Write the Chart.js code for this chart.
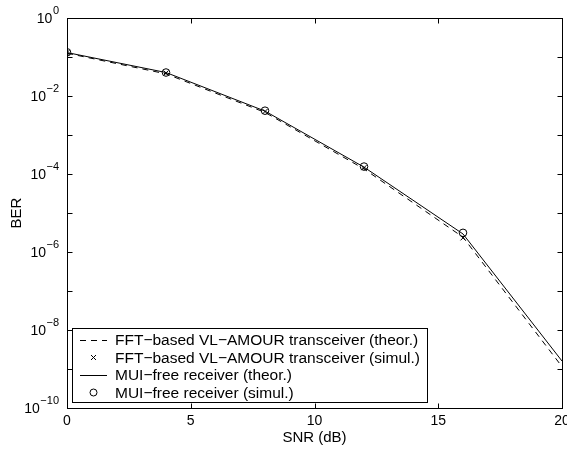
<!DOCTYPE html>
<html>
<head>
<meta charset="utf-8">
<script src="https://cdn.jsdelivr.net/npm/chart.js@4/dist/chart.umd.min.js"></script>
<style>
  html, body { margin: 0; padding: 0; background: #fff; }
  #wrap { width: 567px; height: 449px; }
</style>
</head>
<body>
<div id="wrap"><canvas id="c" width="567" height="449"></canvas></div>
<script>
// SNR points (dB)
const snr = [0, 4, 8, 12, 16, 20];
const snrSim = [0, 4, 8, 12, 16];

// BER curves
const fftTheor = [0.125, 0.037, 3.8e-3, 1.35e-4, 2.4e-6, 1.15e-9];
const fftSimul = [0.13, 0.039, 4.0e-3, 1.45e-4, 2.3e-6];
const muiTheor = [0.13, 0.040, 4.1e-3, 1.5e-4, 2.9e-6, 1.6e-9];
const muiSimul = [0.132, 0.040, 4.2e-3, 1.55e-4, 3.1e-6];

// Axis ticks
const xTicks = [0, 5, 10, 15, 20];
const yExponents = [0, -1, -2, -3, -4, -5, -6, -7, -8, -9, -10];
const yLabelExponents = [0, -2, -4, -6, -8, -10];

const legendLabels = [
  'FFT\u2212based VL\u2212AMOUR transceiver (theor.)',
  'FFT\u2212based VL\u2212AMOUR transceiver (simul.)',
  'MUI\u2212free receiver (theor.)',
  'MUI\u2212free receiver (simul.)'
];

const FONT = '"Liberation Sans", Arial, Helvetica, sans-serif';
const pts = (xs, ys) => xs.map((x, i) => ({ x, y: ys[i] }));

// Frame, inward ticks, tick labels, axis titles and legend
const axesPlugin = {
  id: 'axesPlugin',
  afterDraw(chart) {
    const ctx = chart.ctx;
    const a = chart.chartArea;
    const xs = chart.scales.x, ys = chart.scales.y;
    const L = Math.round(a.left) + 0.5, R = Math.round(a.right) + 0.5;
    const T = Math.round(a.top) + 0.5, B = Math.round(a.bottom) + 0.5;
    const tl = 5;
    ctx.save();
    ctx.strokeStyle = '#000';
    ctx.lineWidth = 1;
    ctx.setLineDash([]);
    ctx.strokeRect(L, T, R - L, B - T);

    ctx.beginPath();
    xTicks.forEach(v => {
      const px = Math.round(xs.getPixelForValue(v)) + 0.5;
      ctx.moveTo(px, B); ctx.lineTo(px, B - tl);
      ctx.moveTo(px, T); ctx.lineTo(px, T + tl);
    });
    yExponents.forEach(e => {
      const py = Math.round(ys.getPixelForValue(Math.pow(10, e))) + 0.5;
      ctx.moveTo(L, py); ctx.lineTo(L + tl, py);
      ctx.moveTo(R, py); ctx.lineTo(R - tl, py);
    });
    ctx.stroke();

    ctx.fillStyle = '#000';
    // x tick labels
    ctx.font = '14px ' + FONT;
    ctx.textAlign = 'center';
    ctx.textBaseline = 'middle';
    xTicks.forEach(v => {
      ctx.fillText(String(v), xs.getPixelForValue(v), a.bottom + 13);
    });

    // y tick labels with superscript exponents
    yLabelExponents.forEach(e => {
      const py = ys.getPixelForValue(Math.pow(10, e));
      const exp = e === 0 ? '0' : '\u2212' + Math.abs(e);
      ctx.font = '11px ' + FONT;
      const ew = ctx.measureText(exp).width;
      ctx.font = '14px ' + FONT;
      const bw = ctx.measureText('10').width;
      const right = a.left - 8;
      ctx.textAlign = 'left';
      ctx.textBaseline = 'middle';
      ctx.fillText('10', right - ew - bw - 0.5, py + 1);
      ctx.font = '11px ' + FONT;
      ctx.fillText(exp, right - ew, py - 7);
    });

    // axis titles
    ctx.font = '15px ' + FONT;
    ctx.textAlign = 'center';
    ctx.textBaseline = 'middle';
    ctx.fillText('SNR (dB)', (a.left + a.right) / 2, 438);
    ctx.save();
    ctx.translate(17, (a.top + a.bottom) / 2);
    ctx.rotate(-Math.PI / 2);
    ctx.fillText('BER', 0, 0);
    ctx.restore();

    // legend
    const bx = 72.5, by = 328.5, bw2 = 355, bh = 74;
    ctx.fillStyle = '#fff';
    ctx.fillRect(bx, by, bw2, bh);
    ctx.strokeRect(bx, by, bw2, bh);
    const rows = [340, 357.5, 375, 392.5];
    const sx0 = 80, sx1 = 107, sxm = 93.5;
    ctx.fillStyle = '#000';
    ctx.font = '15.5px ' + FONT;
    ctx.textAlign = 'left';
    ctx.textBaseline = 'middle';
    rows.forEach((ry, i) => {
      ctx.fillText(legendLabels[i], 115, ry + 1);
    });
    // dashed sample
    ctx.beginPath();
    ctx.setLineDash([6, 5]);
    ctx.moveTo(sx0, rows[0] + 0.5); ctx.lineTo(sx1, rows[0] + 0.5);
    ctx.stroke();
    ctx.setLineDash([]);
    // cross sample
    const c = 2.5;
    ctx.beginPath();
    ctx.moveTo(sxm - c, rows[1] - c); ctx.lineTo(sxm + c, rows[1] + c);
    ctx.moveTo(sxm - c, rows[1] + c); ctx.lineTo(sxm + c, rows[1] - c);
    ctx.stroke();
    // solid sample
    ctx.beginPath();
    ctx.moveTo(sx0, rows[2] + 0.5); ctx.lineTo(sx1, rows[2] + 0.5);
    ctx.stroke();
    // circle sample
    ctx.beginPath();
    ctx.arc(sxm, rows[3], 3.5, 0, Math.PI * 2);
    ctx.stroke();
    ctx.restore();
  }
};

new Chart(document.getElementById('c'), {
  type: 'line',
  data: {
    datasets: [
      {
        label: legendLabels[0],
        data: pts(snr, fftTheor),
        borderColor: '#000', borderWidth: 1, borderDash: [6, 5],
        pointRadius: 0, tension: 0, fill: false
      },
      {
        label: legendLabels[1],
        data: pts(snrSim, fftSimul),
        showLine: false, pointStyle: 'crossRot', pointRadius: 3.5,
        pointBorderColor: '#000', pointBorderWidth: 1, borderColor: '#000'
      },
      {
        label: legendLabels[2],
        data: pts(snr, muiTheor),
        borderColor: '#000', borderWidth: 1,
        pointRadius: 0, tension: 0, fill: false
      },
      {
        label: legendLabels[3],
        data: pts(snrSim, muiSimul),
        showLine: false, pointStyle: 'circle', pointRadius: 3.8,
        pointBorderColor: '#000', pointBackgroundColor: 'rgba(0,0,0,0)',
        pointBorderWidth: 1, borderColor: '#000'
      }
    ]
  },
  options: {
    responsive: false,
    animation: false,
    devicePixelRatio: 1,
    layout: { padding: { left: 67, right: 5, top: 18, bottom: 41 } },
    plugins: { legend: { display: false }, tooltip: { enabled: false } },
    scales: {
      x: { type: 'linear', min: 0, max: 20, display: false },
      y: { type: 'logarithmic', min: 1e-10, max: 1, display: false }
    }
  },
  plugins: [axesPlugin]
});
</script>
</body>
</html>
